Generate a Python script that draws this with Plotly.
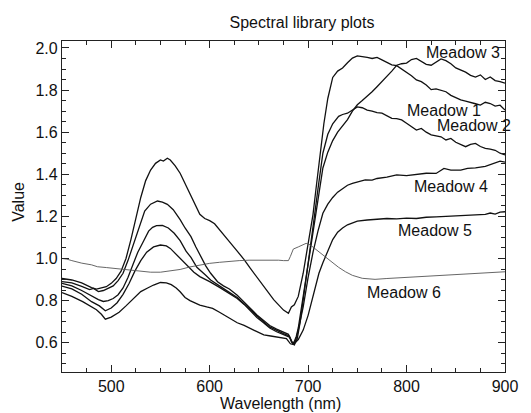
import plotly.graph_objects as go

# ---- data ----
wl_m1 = [450,460,470,480,485,490,495,500,505,510,515,520,525,530,535,540,545,550,553,557,560,565,570,575,580,585,590,595,600,605,610,615,620,628,635,641,648,655,660,665,670,675,680,683,686,690,695,700,705,708,712,716,720,725,730,735,740,745,750,755,760,765,770,775,780,785,790,795,800,805,810,815,820,825,830,835,840,845,850,855,860,865,870,875,880,885,890,895,900]
val_m1 = [0.905,0.898,0.884,0.862,0.855,0.86,0.866,0.882,0.905,0.94,1.0,1.09,1.19,1.29,1.37,1.42,1.452,1.468,1.463,1.476,1.468,1.44,1.405,1.355,1.31,1.26,1.21,1.19,1.18,1.165,1.135,1.105,1.08,1.035,0.995,0.955,0.91,0.868,0.835,0.805,0.78,0.755,0.74,0.77,0.78,0.82,0.93,1.06,1.21,1.33,1.50,1.64,1.76,1.86,1.89,1.905,1.93,1.952,1.962,1.96,1.955,1.95,1.955,1.943,1.93,1.92,1.916,1.90,1.886,1.868,1.848,1.84,1.824,1.802,1.806,1.80,1.792,1.775,1.764,1.753,1.748,1.74,1.735,1.729,1.742,1.736,1.724,1.728,1.705]

wl_m3 = [450,460,470,478,482,487,492,497,502,507,512,517,522,526,530,534,540,547,552,557,563,570,575,581,586,591,596,601,608,614,620,628,635,642,648,655,661,668,675,680,683,685,688,690,695,700,705,710,715,720,725,730,735,740,745,750,755,760,765,770,775,780,785,790,795,800,805,810,815,820,825,830,835,840,845,850,855,860,865,870,875,880,885,890,895,900]
val_m3 = [0.89,0.884,0.868,0.852,0.858,0.843,0.848,0.858,0.87,0.895,0.93,0.99,1.06,1.12,1.18,1.225,1.258,1.273,1.268,1.257,1.232,1.185,1.145,1.104,1.055,1.009,0.965,0.93,0.89,0.87,0.855,0.825,0.79,0.76,0.732,0.705,0.682,0.665,0.65,0.64,0.605,0.595,0.63,0.67,0.82,0.97,1.12,1.28,1.43,1.505,1.56,1.60,1.628,1.66,1.70,1.73,1.75,1.77,1.792,1.816,1.84,1.864,1.89,1.918,1.925,1.928,1.945,1.95,1.935,1.922,1.918,1.935,1.948,1.94,1.925,1.905,1.895,1.885,1.87,1.862,1.872,1.85,1.862,1.845,1.84,1.833]

wl_m2 = [450,460,470,480,487,492,497,502,507,512,517,522,527,532,538,542,546,552,558,564,570,576,581,587,591,596,601,610,618,628,635,642,648,655,661,668,675,681,684,686,689,692,695,700,705,710,715,720,725,731,735,740,745,750,755,760,765,770,775,780,785,790,795,800,805,810,815,820,825,830,835,840,845,850,855,860,865,870,875,880,885,890,895,900]
val_m2 = [0.882,0.87,0.848,0.822,0.805,0.796,0.80,0.81,0.828,0.86,0.91,0.97,1.03,1.075,1.13,1.148,1.156,1.157,1.145,1.12,1.085,1.035,1.005,0.958,0.943,0.92,0.898,0.868,0.845,0.815,0.785,0.752,0.725,0.698,0.675,0.658,0.643,0.632,0.60,0.59,0.62,0.70,0.80,0.98,1.15,1.33,1.50,1.59,1.64,1.675,1.684,1.69,1.705,1.72,1.716,1.705,1.70,1.693,1.69,1.676,1.666,1.664,1.658,1.642,1.626,1.61,1.618,1.60,1.587,1.582,1.578,1.563,1.57,1.552,1.54,1.531,1.542,1.547,1.532,1.523,1.52,1.514,1.50,1.492]

wl_m4 = [450,460,470,480,488,494,500,506,512,518,524,530,536,543,550,556,560,566,572,578,584,590,596,600,610,618,628,635,642,648,655,661,668,675,681,684,687,690,695,700,705,710,715,720,725,730,735,740,745,750,758,765,770,780,790,800,810,820,830,838,845,855,862,870,880,888,895,900]
val_m4 = [0.869,0.856,0.83,0.795,0.775,0.752,0.765,0.79,0.83,0.88,0.94,0.99,1.03,1.055,1.064,1.06,1.048,1.02,0.99,0.965,0.935,0.914,0.90,0.89,0.863,0.838,0.81,0.782,0.75,0.72,0.694,0.67,0.652,0.638,0.627,0.598,0.605,0.66,0.77,0.91,1.03,1.13,1.215,1.258,1.29,1.315,1.333,1.348,1.357,1.362,1.373,1.372,1.38,1.386,1.397,1.394,1.40,1.405,1.404,1.428,1.42,1.42,1.428,1.43,1.438,1.45,1.462,1.458]

wl_m5 = [450,460,471,480,485,490,494,500,508,515,523,530,537,543,550,556,561,566,570,575,580,590,597,603,610,618,628,635,641,648,655,662,668,674,678,682,685,690,695,700,705,711,715,721,725,730,735,740,745,750,760,770,780,790,800,810,820,830,840,850,860,870,880,885,890,895,900]
val_m5 = [0.838,0.82,0.795,0.772,0.757,0.735,0.712,0.722,0.745,0.775,0.811,0.843,0.86,0.874,0.886,0.884,0.876,0.86,0.842,0.815,0.80,0.779,0.77,0.763,0.745,0.724,0.695,0.682,0.668,0.652,0.637,0.632,0.628,0.624,0.62,0.595,0.592,0.615,0.66,0.73,0.82,0.93,0.98,1.05,1.09,1.125,1.145,1.16,1.17,1.178,1.183,1.185,1.19,1.188,1.192,1.19,1.196,1.198,1.20,1.202,1.205,1.208,1.21,1.216,1.211,1.22,1.222]

wl_m6 = [450,455,460,470,480,486,495,510,520,530,540,550,560,570,580,590,600,610,620,630,640,650,660,670,675,678,680,682,685,690,695,698,702,706,711,715,720,725,731,738,745,755,762,768,780,800,815,830,850,865,880,900]
val_m6 = [1.0,0.997,0.99,0.978,0.97,0.961,0.957,0.949,0.945,0.94,0.935,0.935,0.94,0.948,0.96,0.97,0.977,0.982,0.987,0.99,0.992,0.993,0.994,0.992,0.99,0.988,0.99,1.01,1.045,1.055,1.065,1.072,1.065,1.05,1.032,1.015,0.995,0.977,0.958,0.937,0.92,0.906,0.902,0.901,0.905,0.91,0.914,0.918,0.922,0.926,0.93,0.937]

series_names = ["Meadow 1", "Meadow 2", "Meadow 3", "Meadow 4", "Meadow 5", "Meadow 6"]
label_x = [838, 868, 857, 845, 829, 797]
label_y = [1.705, 1.634, 1.979, 1.34, 1.132, 0.838]

x_ticks = [500, 600, 700, 800, 900]
y_ticks = [0.6, 0.8, 1.0, 1.2, 1.4, 1.6, 1.8, 2.0]

FONT = "Liberation Sans, Arial, Helvetica, sans-serif"

# The page body has an 8px margin, so the figure is placed at (8, 8).
OFF = 8
W, H = 531 - OFF - 1, 413 - OFF - 1
PL, PR, PT, PB = 62, 511, 41, 372  # target plot box in window pixels

fig = go.Figure()
data = [
    (wl_m1, val_m1, "Meadow 1", "#111111", 1.3),
    (wl_m2, val_m2, "Meadow 2", "#111111", 1.3),
    (wl_m3, val_m3, "Meadow 3", "#111111", 1.3),
    (wl_m4, val_m4, "Meadow 4", "#111111", 1.3),
    (wl_m5, val_m5, "Meadow 5", "#111111", 1.3),
    (wl_m6, val_m6, "Meadow 6", "#555555", 0.9),
]
for xs, ys, name, col, w in data:
    fig.add_trace(go.Scatter(x=xs, y=ys, mode="lines", name=name,
                             line=dict(color=col, width=w), showlegend=False))

for name, lx, ly in zip(series_names, label_x, label_y):
    fig.add_annotation(x=lx, y=ly, xref="x", yref="y", text=name, showarrow=False,
                       xanchor="center", yanchor="middle",
                       font=dict(family=FONT, size=16, color="#111111"))

axis_common = dict(showline=True, linecolor="#222222", linewidth=1.2, mirror="allticks",
                   ticks="inside", ticklen=7, tickwidth=1, tickcolor="#222222",
                   showgrid=False, zeroline=False,
                   tickfont=dict(family=FONT, size=16, color="#111111"))

fig.update_xaxes(range=[450, 900], tickvals=x_ticks, ticktext=[str(v) for v in x_ticks],
                 minor=dict(dtick=25, tick0=450, ticks="inside", ticklen=4, tickcolor="#222222", showgrid=False),
                 **axis_common)
fig.update_yaxes(range=[0.461, 2.033], tickvals=y_ticks, ticktext=[f"{v:.1f}" for v in y_ticks],
                 minor=dict(dtick=0.05, tick0=0.0, ticks="inside", ticklen=4, tickcolor="#222222", showgrid=False),
                 **axis_common)

pw, ph = PR - PL, PB - PT
fig.add_annotation(x=(283.5 - PL) / pw, y=-(403 - PB) / ph, xref="paper", yref="paper",
                   text="Wavelength (nm)", showarrow=False, xanchor="center", yanchor="middle",
                   font=dict(family=FONT, size=16, color="#111111"))
fig.add_annotation(x=(18.5 - PL) / pw, y=(PB - 201.7) / ph, xref="paper", yref="paper",
                   text="Value", showarrow=False, textangle=-90, xanchor="center", yanchor="middle",
                   font=dict(family=FONT, size=16, color="#111111"))

fig.update_layout(
    width=W, height=H,
    margin=dict(l=PL - OFF, r=W - (PR - OFF), t=PT - OFF, b=H - (PB - OFF)),
    paper_bgcolor="white", plot_bgcolor="white",
    title=dict(text="Spectral library plots", x=(302 - OFF) / W, xref="container", xanchor="center",
               y=1 - (22 - OFF) / H, yref="container", yanchor="middle",
               font=dict(family=FONT, size=16, color="#111111")),
)

fig.write_html("out.html")
